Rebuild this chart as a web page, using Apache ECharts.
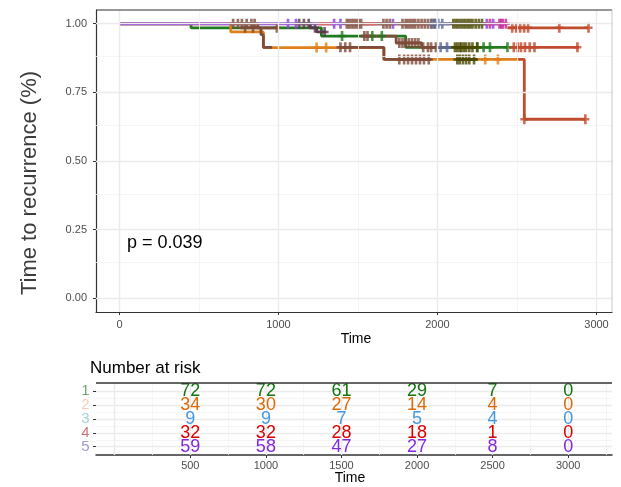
<!DOCTYPE html>
<html>
<head>
<meta charset="utf-8">
<script src="https://cdn.jsdelivr.net/npm/echarts@6/dist/echarts.min.js"></script>
<style>
  html, body { margin: 0; padding: 0; background: #fff; }
  #chart { width: 621px; height: 487px; }
</style>
</head>
<body>
<div id="chart"></div>
<script>
// ---- survival step curves: times (T), survival (S), censor times (C) ----
const greenT = [0, 450, 1270, 1800, 2440];
const greenS = [1, 0.985, 0.955, 0.914, 0.914];
const greenC = [1400, 1590, 1650, 2250, 2290, 2330, 2440];

const orangeT = [0, 700, 905, 1663, 2520];
const orangeS = [1, 0.97, 0.913, 0.87, 0.87];
const orangeC = [1240, 1300, 2300, 2380];

const purpleT = [0, 2430];
const purpleS = [1, 1];
const purpleC = [1060, 1110, 1350, 1390, 1720, 2310, 2350, 2400];

const plumT = [1120, 1200, 1240, 1300];
const plumS = [1, 0.985, 0.97, 0.97];
const plumC = [1130, 1160, 1190, 1230, 1290];

const brownAT = [700, 870, 890, 905, 960];
const brownAS = [1, 0.985, 0.96, 0.914, 0.914];
const brownAC = [715, 745, 770, 800, 830, 850];

const brownA2T = [760, 1000];
const brownA2S = [0.985, 0.985];
const brownA2C = [790, 840, 990];

const brownCT = [1380, 1663, 1960];
const brownCS = [0.914, 0.87, 0.87];
const brownCC = [1390, 1420, 1450, 1760, 1790, 1815, 1840, 1865, 1890, 1915, 1945];

const brownBT = [1520, 1740, 1900, 2020];
const brownBS = [0.955, 0.93, 0.914, 0.914];
const brownBC = [1540, 1560, 1760, 1780, 1800, 1820, 1840, 1860, 1880, 1910, 1940, 1960, 1990];

const brownTopT = [1420, 2000];
const brownTopS = [1, 1];
const brownTopC = [1430, 1445, 1460, 1475, 1490, 1505, 1520, 1660, 1680, 1700,
                   1780, 1800, 1815, 1830, 1845, 1860, 1880, 1900, 1920, 1940, 1960, 1980];

const redBitAT = [1250, 1340];
const redBitAS = [1, 1];
const redBitBT = [1530, 1620];
const redBitBS = [1, 1];

const slateT = [1960, 2080];
const slateS = [1, 1];
const slateC = [1965, 1985, 2005, 2030];

const slateCT = [1990, 2090];
const slateCS = [0.914, 0.914];
const slateCC = [2020, 2060];

const oliveTopT = [2090, 2290];
const oliveTopS = [1, 1];
const oliveTopC = [2100, 2115, 2130, 2145, 2160, 2175, 2190, 2205, 2220, 2240, 2260, 2280];

const oliveCT = [2100, 2260];
const oliveCS = [0.914, 0.914];
const oliveCC = [2110, 2125, 2140, 2150, 2165, 2180, 2200, 2220, 2250];

const oliveDT = [2120, 2250];
const oliveDS = [0.87, 0.87];
const oliveDC = [2125, 2140, 2160, 2180, 2200, 2230];

const magentaT = [2290, 2440];
const magentaS = [1, 1];
const magentaC = [2330, 2390, 2410, 2430];

const redTopT = [2440, 2950];
const redTopS = [0.985, 0.985];
const redTopC = [2470, 2495, 2520, 2545, 2570, 2766, 2950];

const redCT = [2450, 2890];
const redCS = [0.914, 0.914];
const redCC = [2480, 2505, 2525, 2550, 2580, 2610, 2880];

const redDT = [2510, 2546, 2930];
const redDS = [0.87, 0.652, 0.652];
const redDC = [2546, 2930];

// ---- number at risk table ----
const riskTimes = [500, 1000, 1500, 2000, 2500, 3000];
const risk1 = [72, 72, 61, 29, 7, 0];
const risk2 = [34, 30, 27, 14, 4, 0];
const risk3 = [9, 9, 7, 5, 4, 0];
const risk4 = [32, 32, 28, 18, 1, 0];
const risk5 = [59, 58, 47, 27, 8, 0];
const riskRows = ['1', '2', '3', '4', '5'];

// ---- axis ticks ----
const timeTicks = [0, 1000, 2000, 3000];
const survTicks = [0, 0.25, 0.5, 0.75, 1];
const tableTicks = [500, 1000, 1500, 2000, 2500, 3000];
const rowTicks = [1, 2, 3, 4, 5];

const C_GREEN = '#1e7b1e', C_ORANGE = '#e0801a', C_PURPLE = '#8c3fd6',
      C_PLUM = '#5b3a4c', C_BROWN = '#804c3b', C_RED = '#c14b2d',
      C_REDBIT = '#d2453a', C_SLATE = '#5b6a96', C_OLIVE = '#4b4800',
      C_MAGENTA = '#c8238f';

const curves = [
  [C_GREEN, greenT, greenS, greenC],
  [C_ORANGE, orangeT, orangeS, orangeC],
  [C_PURPLE, purpleT, purpleS, purpleC],
  [C_PLUM, plumT, plumS, plumC],
  [C_BROWN, brownAT, brownAS, brownAC],
  [C_BROWN, brownA2T, brownA2S, brownA2C],
  [C_BROWN, brownCT, brownCS, brownCC],
  [C_BROWN, brownBT, brownBS, brownBC],
  [C_BROWN, brownTopT, brownTopS, brownTopC],
  [C_REDBIT, redBitAT, redBitAS, []],
  [C_REDBIT, redBitBT, redBitBS, []],
  [C_SLATE, slateT, slateS, slateC],
  [C_SLATE, slateCT, slateCS, slateCC],
  [C_OLIVE, oliveTopT, oliveTopS, oliveTopC],
  [C_OLIVE, oliveCT, oliveCS, oliveCC],
  [C_OLIVE, oliveDT, oliveDS, oliveDC],
  [C_MAGENTA, magentaT, magentaS, magentaC],
  [C_RED, redTopT, redTopS, redTopC],
  [C_RED, redCT, redCS, redCC],
  [C_RED, redDT, redDS, redDC]
];

const rowColors = ['#0f750f', '#dc6a08', '#4698de', '#dc0000', '#8228e0'];
const rowLabelColors = ['#4f8a55', '#f0c4a2', '#8ec8c8', '#c0505a', '#9080c8'];

// censor mark: a bold plus sign
const PLUS = 'path://M3,0H6V4H9V6.6H6V10.6H3V6.6H0V4H3Z';
const FONT = '"Liberation Sans", Arial, sans-serif';
const TABLE_MIN = -124, TABLE_MAX = 3290;

function survAt(T, S, t) {
  let v = S[0];
  for (let i = 0; i < T.length; i++) if (T[i] <= t) v = S[i];
  return v;
}

const series = [];

// background grid lines drawn as mark lines
function gridLines(xi, xs, ys, color, width) {
  series.push({
    type: 'line', xAxisIndex: xi, yAxisIndex: xi, data: [], silent: true, z: 0,
    markLine: {
      silent: true, symbol: ['none', 'none'], label: { show: false },
      lineStyle: { color: color, width: width, type: 'solid' },
      emphasis: { disabled: true },
      data: xs.map(v => ({ xAxis: v })).concat(ys.map(v => ({ yAxis: v })))
    }
  });
}
gridLines(0, [-500, 500, 1500, 2500], [0.125, 0.375, 0.625, 0.875], '#f2f2f2', 0.8);
gridLines(0, [0, 1000, 2000, 3000], [0, 0.25, 0.5, 0.75, 1], '#ebebeb', 1.4);
gridLines(1, [250, 750, 1250, 1750, 2250, 2750, 3250], [1.5, 2.5, 3.5, 4.5], '#f2f2f2', 0.8);
gridLines(1, [0, 500, 1000, 1500, 2000, 2500, 3000], [1, 2, 3, 4, 5], '#ebebeb', 1.4);

curves.forEach(([color, T, S, Cs]) => {
  series.push({
    type: 'line', xAxisIndex: 0, yAxisIndex: 0, step: 'end',
    data: T.map((t, i) => [t, S[i]]),
    showSymbol: false, silent: true, z: 3,
    lineStyle: { color: color, width: 2.8 }
  });
});
curves.forEach(([color, T, S, Cs]) => {
  if (!Cs.length) return;
  series.push({
    type: 'scatter', xAxisIndex: 0, yAxisIndex: 0,
    data: Cs.map(c => [c, survAt(T, S, c)]),
    symbol: PLUS, symbolSize: [8, 10], silent: true, z: 4,
    itemStyle: { color: color }
  });
});

// numbers at risk
[risk1, risk2, risk3, risk4, risk5].forEach((row, r) => {
  series.push({
    type: 'scatter', xAxisIndex: 1, yAxisIndex: 1,
    data: row.map((v, i) => [riskTimes[i], r + 1, v]),
    symbolSize: 1, itemStyle: { color: 'rgba(0,0,0,0)' }, silent: true, z: 5,
    label: {
      show: true, position: 'inside', formatter: p => String(p.value[2]),
      color: rowColors[r], fontSize: 18, fontFamily: FONT,
      textBorderWidth: 0, textBorderColor: 'transparent', opacity: 1
    }
  });
});

// stratum names on the left of the table
series.push({
  type: 'scatter', xAxisIndex: 1, yAxisIndex: 1, clip: false,
  data: rowTicks.map(v => [TABLE_MIN, v]),
  symbolSize: 1, itemStyle: { color: 'rgba(0,0,0,0)' }, silent: true, z: 5,
  label: {
    show: true, position: 'left', distance: 6,
    formatter: p => riskRows[p.dataIndex],
    color: p => rowLabelColors[p.dataIndex],
    fontSize: 15, fontFamily: FONT,
    textBorderWidth: 0
  }
});
// per-item colours for the stratum names
series[series.length - 1].data = rowTicks.map((v, i) => ({
  value: [TABLE_MIN, v],
  label: { color: rowLabelColors[i] }
}));

const tickStyle = { show: true, length: 3, interval: 0, lineStyle: { color: '#333', width: 1 } };
const labelStyle = { color: '#4d4d4d', fontSize: 11, fontFamily: FONT, interval: 0, showMinLabel: true, showMaxLabel: true, hideOverlap: false };

const option = {
  animation: false,
  backgroundColor: '#ffffff',
  grid: [
    { left: 96, right: 9, top: 10, bottom: 175 },
    { left: 96, right: 9, top: 383, bottom: 32 }
  ],
  xAxis: [
    {
      gridIndex: 0, type: 'value', min: -147.5, max: 3097.5,
      axisLine: { show: true, onZero: false, lineStyle: { color: '#333', width: 1.2 } },
      axisTick: Object.assign({ customValues: timeTicks }, tickStyle),
      axisLabel: Object.assign({ customValues: timeTicks, margin: 7, formatter: v => String(v) }, labelStyle),
      splitLine: { show: false }
    },
    {
      gridIndex: 1, type: 'value', min: TABLE_MIN, max: TABLE_MAX,
      axisLine: { show: true, onZero: false, lineStyle: { color: '#333', width: 1.5 } },
      axisTick: Object.assign({ customValues: tableTicks }, tickStyle),
      axisLabel: Object.assign({ customValues: tableTicks, margin: 5, formatter: v => String(v) }, labelStyle),
      splitLine: { show: false }
    }
  ],
  yAxis: [
    {
      gridIndex: 0, type: 'value', min: -0.05, max: 1.05,
      axisLine: { show: true, onZero: false, lineStyle: { color: '#333', width: 1.2 } },
      axisTick: Object.assign({ customValues: survTicks }, tickStyle),
      axisLabel: Object.assign({ customValues: survTicks, margin: 9, formatter: v => v.toFixed(2) }, labelStyle),
      splitLine: { show: false }
    },
    {
      gridIndex: 1, type: 'value', min: 0.4, max: 5.6, inverse: true,
      axisLine: { show: false, onZero: false },
      axisTick: Object.assign({ customValues: rowTicks }, tickStyle),
      axisLabel: { show: false },
      splitLine: { show: false }
    }
  ],
  graphic: [
    { type: 'line', shape: { x1: 96, y1: 10, x2: 612, y2: 10 }, style: { stroke: '#333', lineWidth: 1.2 }, z: 100 },
    { type: 'line', shape: { x1: 612, y1: 10, x2: 612, y2: 312 }, style: { stroke: '#c8c8c8', lineWidth: 1 }, z: 100 },
    { type: 'line', shape: { x1: 96, y1: 383, x2: 612, y2: 383 }, style: { stroke: '#333', lineWidth: 1.5 }, z: 100 },
    {
      type: 'text', x: 30, y: 183, rotation: Math.PI / 2, z: 100,
      style: { text: 'Time to recurrence (%)', font: '22px ' + FONT, fill: '#3c3c3c', textAlign: 'center', textVerticalAlign: 'middle' }
    },
    {
      type: 'text', x: 356, y: 339, z: 100,
      style: { text: 'Time', font: '14px ' + FONT, fill: '#000', textAlign: 'center', textVerticalAlign: 'middle' }
    },
    {
      type: 'text', x: 127, y: 243, z: 100,
      style: { text: 'p = 0.039', font: '18px ' + FONT, fill: '#000', textAlign: 'left', textVerticalAlign: 'middle' }
    },
    {
      type: 'text', x: 90, y: 368, z: 100,
      style: { text: 'Number at risk', font: '17px ' + FONT, fill: '#000', textAlign: 'left', textVerticalAlign: 'middle' }
    },
    {
      type: 'text', x: 350, y: 478, z: 100,
      style: { text: 'Time', font: '14px ' + FONT, fill: '#000', textAlign: 'center', textVerticalAlign: 'middle' }
    }
  ],
  series: series
};

echarts.init(document.getElementById('chart'), null, { renderer: 'canvas' }).setOption(option);
</script>
</body>
</html>
